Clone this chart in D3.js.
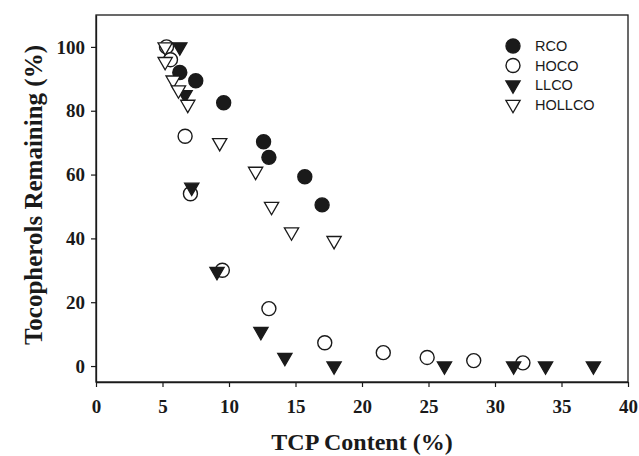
<!DOCTYPE html>
<html><head><meta charset="utf-8">
<script src="https://cdn.jsdelivr.net/npm/d3@7"></script>
<style>
html,body{margin:0;padding:0;background:#fff;}
svg{display:block;}
</style></head>
<body>
<svg id="chart" width="639" height="456"></svg>
<script>
// ---- data ----
const seriesNames = ["RCO", "HOCO", "LLCO", "HOLLCO"];
const rcoX = [6.3, 7.5, 9.6, 12.6, 13.0, 15.7, 17.0];
const rcoY = [92, 89.4, 82.5, 70.3, 65.4, 59.3, 50.5];
const hocoX = [5.3, 5.6, 6.7, 7.1, 9.5, 13.0, 17.2, 21.6, 24.9, 28.4, 32.1];
const hocoY = [100, 96, 72, 54, 30, 18, 7.3, 4.2, 2.7, 1.7, 1.0];
const llcoX = [6.3, 6.7, 7.2, 9.1, 12.4, 14.2, 17.9, 26.2, 31.4, 33.8, 37.4];
const llcoY = [100, 85, 56, 29.6, 10.8, 2.7, 0, 0, 0, 0, 0];
const hollcoX = [5.2, 5.2, 5.8, 6.2, 6.9, 9.3, 12.0, 13.2, 14.7, 17.9];
const hollcoY = [100, 95.4, 89.6, 86.5, 82, 70, 61, 50, 42, 39.3];
const xTicks = [0, 5, 10, 15, 20, 25, 30, 35, 40];
const yTicks = [0, 20, 40, 60, 80, 100];
const xTitle = "TCP Content (%)";
const yTitle = "Tocopherols Remaining (%)";

// ---- layout ----
const svg = d3.select("#chart");
const L = 96, R = 628, T = 15, B = 382;
const x = d3.scaleLinear().domain([0, 40]).range([L, R]);
const y = d3.scaleLinear().domain([-5, 110]).range([B, T]);
const ink = "#1a1a1a";
const serif = "'Liberation Serif','Times New Roman',serif";
const sans = "'Liberation Sans',Arial,sans-serif";

// frame
svg.append("rect").attr("x", L).attr("y", T).attr("width", R - L).attr("height", B - T)
  .attr("fill", "none").attr("stroke", ink).attr("stroke-width", 1.3);

const xAxis = svg.append("g").attr("transform", `translate(0,${B})`)
  .call(d3.axisBottom(x).tickValues(xTicks).tickSize(5).tickSizeOuter(0).tickPadding(13).tickFormat(d3.format("d")));
const yAxis = svg.append("g").attr("transform", `translate(${L},0)`)
  .call(d3.axisLeft(y).tickValues(yTicks).tickSize(5).tickSizeOuter(0).tickPadding(6).tickFormat(d3.format("d")));
[xAxis, yAxis].forEach(g => {
  g.select(".domain").attr("stroke", ink).attr("stroke-width", 1.3);
  g.selectAll(".tick line").attr("stroke", ink).attr("stroke-width", 1.2);
  g.selectAll(".tick text").attr("fill", ink).style("font-family", serif)
    .style("font-weight", "bold").style("font-size", "19px");
});

svg.append("text").attr("x", 362).attr("y", 450).attr("text-anchor", "middle")
  .style("font-family", serif).style("font-weight", "bold").style("font-size", "24px")
  .attr("fill", ink).text(xTitle);
svg.append("text").attr("transform", "translate(42,195) rotate(-90)").attr("text-anchor", "middle")
  .style("font-family", serif).style("font-weight", "bold").style("font-size", "25px")
  .attr("fill", ink).text(yTitle);

// ---- marks ----
const tri = d3.symbol().type(d3.symbolTriangle).size(88)();
const styles = {
  RCO:    {shape: "circle", fill: ink},
  HOCO:   {shape: "circle", fill: "#fff"},
  LLCO:   {shape: "tri", fill: ink},
  HOLLCO: {shape: "tri", fill: "#fff"}
};
const data = {
  RCO: rcoX.map((v, i) => [v, rcoY[i]]),
  HOCO: hocoX.map((v, i) => [v, hocoY[i]]),
  LLCO: llcoX.map((v, i) => [v, llcoY[i]]),
  HOLLCO: hollcoX.map((v, i) => [v, hollcoY[i]])
};
function drawMark(sel, st) {
  if (st.shape === "circle") {
    sel.append("circle").attr("r", 7).attr("fill", st.fill).attr("stroke", ink).attr("stroke-width", 1.4);
  } else {
    sel.append("path").attr("d", tri).attr("transform", "rotate(180)")
      .attr("fill", st.fill).attr("stroke", ink).attr("stroke-width", 1.3).attr("stroke-linejoin", "miter");
  }
}
seriesNames.forEach(name => {
  const st = styles[name];
  svg.append("g").selectAll("g").data(data[name]).join("g")
    .attr("transform", d => `translate(${x(d[0])},${y(d[1])})`)
    .each(function () { drawMark(d3.select(this), st); });
});

// ---- legend ----
const legend = svg.append("g");
seriesNames.forEach((name, i) => {
  const ly = 46 + i * 19.5;
  const g = legend.append("g").attr("transform", `translate(513,${ly})`);
  drawMark(g, styles[name]);
  legend.append("text").attr("x", 535).attr("y", ly + 5)
    .style("font-family", sans).style("font-size", "14.5px").attr("fill", ink).text(name);
});
</script>
</body></html>
